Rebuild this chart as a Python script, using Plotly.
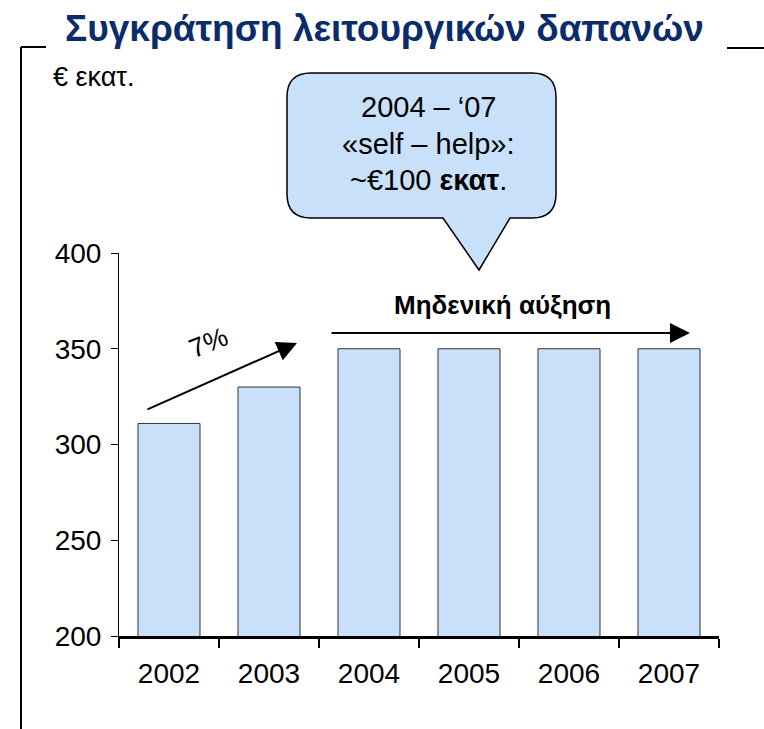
import plotly.graph_objects as go

W, H = 764, 729

years = ["2002", "2003", "2004", "2005", "2006", "2007"]
costs = [311, 330, 350, 350, 350, 350]
y_ticks = [200, 250, 300, 350, 400]

title = "Συγκράτηση λειτουργικών δαπανών"
unit = "€ εκατ."
growth_label = "7%"
flat_label = "Μηδενική αύξηση"
callout_lines = ["2004 – ‘07", "«self – help»:", "~€100 <b>εκατ</b>."]

NARROW = "Liberation Sans Narrow, Arial Narrow, Liberation Sans, Arial, sans-serif"
ARIAL = "Liberation Sans, Arial, sans-serif"
NAVY = "#0b2c6b"
BAR = "#c8e0f9"


def px(x):
    return x / W


def py(y):
    return 1 - y / H


fig = go.Figure()
fig.add_trace(go.Bar(
    x=years, y=costs, width=0.62,
    marker=dict(color=BAR, line=dict(color="#333333", width=1)),
    hoverinfo="skip",
))

# callout bubble with tail, drawn in pixel terms then mapped to paper
x0, x1, y0, y1, r = 287, 556, 73, 218, 24
tail = [(510, 218), (479, 270), (443, 218)]
pts = [
    ("M", (x0 + r, y0)), ("L", (x1 - r, y0)), ("Q", (x1, y0), (x1, y0 + r)),
    ("L", (x1, y1 - r)), ("Q", (x1, y1), (x1 - r, y1)),
    ("L", tail[0]), ("L", tail[1]), ("L", tail[2]),
    ("L", (x0 + r, y1)), ("Q", (x0, y1), (x0, y1 - r)),
    ("L", (x0, y0 + r)), ("Q", (x0, y0), (x0 + r, y0)),
]
path = ""
for cmd, *ps in pts:
    path += cmd + " " + " ".join(f"{px(a):.5f},{py(b):.5f}" for a, b in ps) + " "
path += "Z"

shapes = [
    dict(type="path", xref="paper", yref="paper", path=path,
         fillcolor=BAR, line=dict(color="black", width=1.5)),
    dict(type="line", xref="paper", yref="paper",
         x0=px(21), x1=px(21), y0=py(47), y1=py(729), line=dict(color="black", width=2)),
    dict(type="line", xref="paper", yref="paper",
         x0=px(21), x1=px(46), y0=py(47), y1=py(47), line=dict(color="black", width=2)),
    dict(type="line", xref="paper", yref="paper",
         x0=px(727), x1=px(764), y0=py(48), y1=py(48), line=dict(color="black", width=2)),
]

annotations = [
    dict(text=f"<b>{title}</b>", x=px(63), y=py(28), xref="paper", yref="paper",
         xanchor="left", yanchor="middle", showarrow=False,
         font=dict(family=NARROW, size=37, color=NAVY)),
    dict(text=unit, x=px(51), y=py(77), xref="paper", yref="paper",
         xanchor="left", yanchor="middle", showarrow=False,
         font=dict(family=NARROW, size=27, color="black")),
    # growth arrow 2002 -> 2003
    dict(x=1.28, y=353, ax=-0.23, ay=318, xref="x", yref="y", axref="x", ayref="y",
         text="", showarrow=True, arrowhead=2, arrowsize=2, arrowwidth=2, arrowcolor="black"),
    dict(text=growth_label, x=0.39, y=353, xref="x", yref="y", textangle=-22,
         xanchor="center", yanchor="middle",
         showarrow=False, font=dict(family=NARROW, size=27, color="black")),
    # flat arrow 2004 -> 2007
    dict(x=5.21, y=358.2, ax=1.61, ay=358.2, xref="x", yref="y", axref="x", ayref="y",
         text="", showarrow=True, arrowhead=2, arrowsize=2, arrowwidth=2, arrowcolor="black"),
    dict(text=f"<b>{flat_label}</b>", x=3.33, y=373, xref="x", yref="y",
         xanchor="center", yanchor="middle",
         showarrow=False, font=dict(family=NARROW, size=26, color="black")),
]
for i, line in enumerate(callout_lines):
    annotations.append(dict(text=line, x=px(428), y=py(107 + 36.5 * i), xref="paper", yref="paper",
                            xanchor="center", yanchor="middle", showarrow=False,
                            font=dict(family=NARROW, size=29, color="black")))

fig.update_layout(
    width=W, height=H, margin=dict(l=0, r=0, t=0, b=0, pad=0, autoexpand=False),
    paper_bgcolor="white", plot_bgcolor="white", showlegend=False,
    shapes=shapes, annotations=annotations,
    xaxis=dict(domain=[px(119), px(719)], range=[-0.5, 5.5], type="category",
               showline=True, linewidth=3, linecolor="black", showgrid=False,
               ticks="outside", tickson="boundaries", ticklen=9, tickwidth=2, tickcolor="black",
               ticklabelstandoff=10, tickfont=dict(family=ARIAL, size=28, color="black")),
    yaxis=dict(domain=[py(636), py(253)], range=[200, 400], tickvals=y_ticks,
               showline=True, linewidth=1, linecolor="black", showgrid=False, zeroline=False,
               ticks="outside", ticklen=7, tickwidth=1, tickcolor="black",
               ticklabelstandoff=4, tickfont=dict(family=ARIAL, size=28, color="black")),
)

fig.write_html("out.html", config={"displayModeBar": False},
               post_script="document.body.style.margin='0';")
